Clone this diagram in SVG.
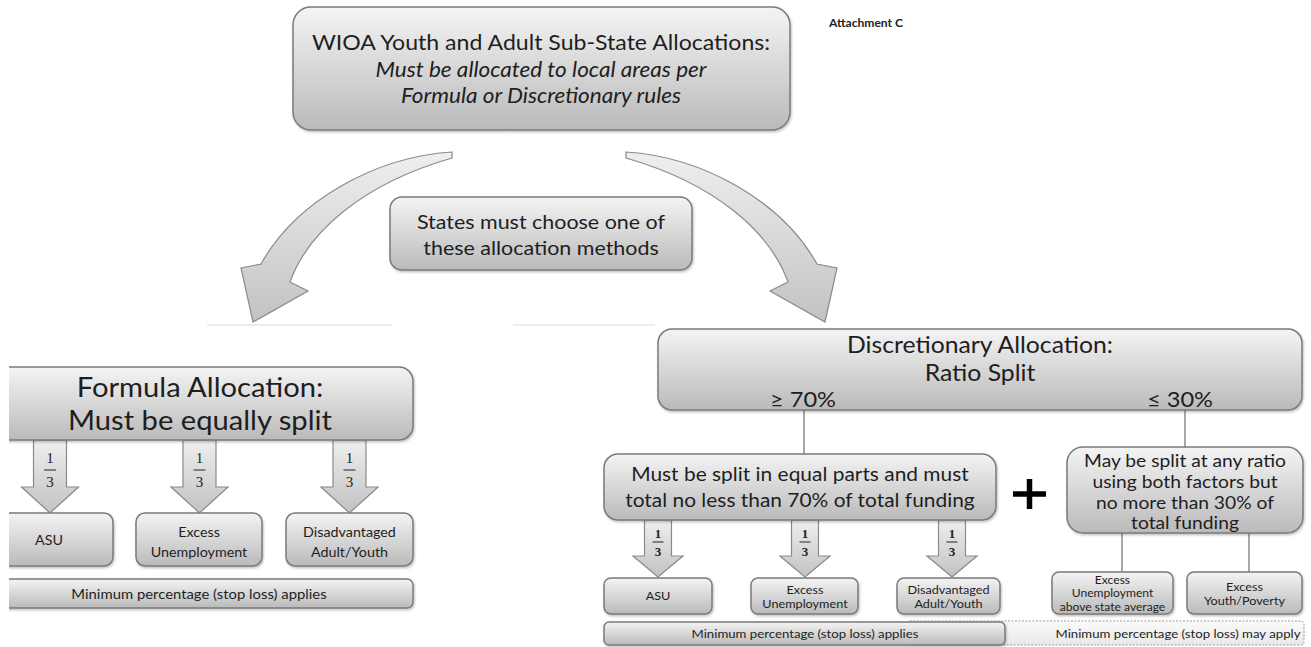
<svg xmlns="http://www.w3.org/2000/svg" width="1311" height="647" viewBox="0 0 1311 647">
<defs>
<linearGradient id="g" x1="0" y1="0" x2="0" y2="1"><stop offset="0" stop-color="#f4f4f4"/><stop offset="1" stop-color="#bababa"/></linearGradient>
<linearGradient id="ga" x1="0" y1="0" x2="0" y2="1"><stop offset="0" stop-color="#efefef"/><stop offset="1" stop-color="#c2c2c2"/></linearGradient>
<linearGradient id="gl" x1="0" y1="0" x2="0" y2="1"><stop offset="0" stop-color="#fbfbfb"/><stop offset="1" stop-color="#e8e8e8"/></linearGradient>
<filter id="sh" x="-5%" y="-10%" width="110%" height="130%"><feDropShadow dx="1" dy="1.5" stdDeviation="1.2" flood-color="#000" flood-opacity="0.25"/></filter>
<clipPath id="cl"><rect x="9" y="0" width="1302" height="647"/></clipPath>
<style>
.b{fill:url(#g);stroke:#7a7a7a;stroke-width:1.5;filter:url(#sh)}
.ar{fill:url(#ga);stroke:#8a8a8a;stroke-width:1.2}
.t{font-family:Lato,"Open Sans","Liberation Sans",sans-serif;fill:#1e1e1e;text-anchor:middle}
.f{font-family:"Liberation Serif",serif;fill:#222;text-anchor:middle}
.ln{stroke:#6e6e6e;stroke-width:1.2;fill:none}
.fl{stroke:#ececec;stroke-width:2}
</style>
</defs>
<rect width="1311" height="647" fill="#fff"/>
<line class="fl" x1="207" y1="325" x2="392" y2="325"/>
<line class="fl" x1="513" y1="325" x2="655" y2="325"/>

<g id="connectors">
<path id="arrow-left" class="ar" d="M452,152 C375,157 296,201 261,264 L241,268 L253,322 L308,291 L290,282 C308,232 362,184 452,158 Z"/>
<path id="arrow-right" class="ar" transform="translate(1078,0) scale(-1,1)" d="M452,152 C375,157 296,201 261,264 L241,268 L253,322 L308,291 L290,282 C308,232 362,184 452,158 Z"/>
<line class="ln" x1="804" y1="410" x2="804" y2="454"/>
<line class="ln" x1="1185" y1="410" x2="1185" y2="447"/>
<line class="ln" x1="1122" y1="533" x2="1122" y2="572"/>
<line class="ln" x1="1249" y1="533" x2="1249" y2="572"/>
<path class="ar" d="M33.5,440 H66.5 V487 H78.5 L50,513 L21.5,487 H33.5 Z"/>
<path class="ar" d="M183,440 H216 V487 H228 L199.5,513 L171,487 H183 Z"/>
<path class="ar" d="M333,440 H366 V487 H378 L349.5,513 L321,487 H333 Z"/>
<path class="ar" d="M644.5,520 H671.5 V556 H683 L658,577 L633,556 H644.5 Z"/>
<path class="ar" d="M791.5,520 H818.5 V556 H830 L805,577 L780,556 H791.5 Z"/>
<path class="ar" d="M938.5,520 H965.5 V556 H977 L952,577 L927,556 H938.5 Z"/>
<g class="f" font-size="15">
<text x="50" y="463">1</text><text x="50" y="487">3</text>
<text x="199.5" y="463">1</text><text x="199.5" y="487">3</text>
<text x="349.5" y="463">1</text><text x="349.5" y="487">3</text>
</g>
<g stroke="#222" stroke-width="1">
<line x1="44" y1="470" x2="56" y2="470"/><line x1="193.5" y1="470" x2="205.5" y2="470"/><line x1="343.5" y1="470" x2="355.5" y2="470"/>
<line x1="652.5" y1="542" x2="663.5" y2="542"/><line x1="799.5" y1="542" x2="810.5" y2="542"/><line x1="946.5" y1="542" x2="957.5" y2="542"/>
</g>
<g class="f" font-size="13" font-weight="bold">
<text x="658" y="538">1</text><text x="658" y="556">3</text>
<text x="805" y="538">1</text><text x="805" y="556">3</text>
<text x="952" y="538">1</text><text x="952" y="556">3</text>
</g>
</g>

<g id="top">
<rect class="b" x="293" y="7" width="497" height="123" rx="18"/>
<g transform="scale(1.1,1)">
<text class="t" x="491.82" y="50" font-size="21">WIOA Youth and Adult Sub-State Allocations:</text>
<text class="t" x="491.82" y="77" font-size="20.5" font-style="italic">Must be allocated to local areas per</text>
<text class="t" x="491.82" y="103" font-size="20.5" font-style="italic">Formula or Discretionary rules</text>
</g>
</g>
<g id="attachment">
<text transform="scale(1.1,1)" x="753.64" y="27" font-family="Lato,Open Sans,sans-serif" font-size="11" font-weight="bold" fill="#222">Attachment C</text>
</g>

<g id="choose">
<rect class="b" x="390" y="197" width="302" height="73" rx="12"/>
<g transform="scale(1.1,1)">
<text class="t" x="491.82" y="229" font-size="19.5">States must choose one of</text>
<text class="t" x="491.82" y="255" font-size="19.5">these allocation methods</text>
</g>
</g>

<g clip-path="url(#cl)">
<g id="formula">
<rect class="b" x="-20" y="367" width="433" height="73" rx="14"/>
<g transform="scale(1.1,1)">
<text class="t" x="181.82" y="397" font-size="26.5">Formula Allocation:</text>
<text class="t" x="181.82" y="430" font-size="26.5">Must be equally split</text>
</g>
</g>
<g id="f-asu">
<rect class="b" x="-10" y="513" width="123" height="53" rx="9"/>
<text class="t" transform="scale(1.1,1)" x="44.55" y="545" font-size="13">ASU</text>
</g>
<g id="f-stoploss">
<rect class="b" x="-10" y="579" width="423" height="29" rx="6"/>
<text class="t" transform="scale(1.1,1)" x="180.91" y="599" font-size="13.5">Minimum percentage (stop loss) applies</text>
</g>
</g>
<g id="f-excess">
<rect class="b" x="136" y="513" width="126" height="53" rx="9"/>
<g transform="scale(1.1,1)">
<text class="t" x="180.91" y="537" font-size="13">Excess</text>
<text class="t" x="180.91" y="557" font-size="13">Unemployment</text>
</g>
</g>
<g id="f-disadv">
<rect class="b" x="286" y="513" width="127" height="53" rx="9"/>
<g transform="scale(1.1,1)">
<text class="t" x="317.73" y="537" font-size="13">Disadvantaged</text>
<text class="t" x="317.73" y="557" font-size="13">Adult/Youth</text>
</g>
</g>

<g id="discretionary">
<rect class="b" x="658" y="329" width="644" height="81" rx="14"/>
<g transform="scale(1.1,1)">
<text class="t" x="890.91" y="353.5" font-size="22.5">Discretionary Allocation:</text>
<text class="t" x="890.91" y="381" font-size="22.5">Ratio Split</text>
<text class="t" x="730" y="407" font-size="21.5">≥ 70%</text>
<text class="t" x="1072.73" y="407" font-size="21.5">≤ 30%</text>
</g>
</g>

<g id="equal-parts">
<rect class="b" x="604" y="454" width="392" height="66" rx="14"/>
<g transform="scale(1.1,1)">
<text class="t" x="727.27" y="481" font-size="19">Must be split in equal parts and must</text>
<text class="t" x="727.27" y="507" font-size="19">total no less than 70% of total funding</text>
</g>
</g>

<g id="plus">
<line x1="1013" y1="494" x2="1046" y2="494" stroke="#000" stroke-width="5.5"/>
<line x1="1029.5" y1="479" x2="1029.5" y2="509" stroke="#000" stroke-width="5.5"/>
</g>

<g id="any-ratio">
<rect class="b" x="1067" y="447" width="236" height="86" rx="16"/>
<g transform="scale(1.1,1)">
<text class="t" x="1077.27" y="467" font-size="17.5">May be split at any ratio</text>
<text class="t" x="1077.27" y="488" font-size="17.5">using both factors but</text>
<text class="t" x="1077.27" y="509" font-size="17.5">no more than 30% of</text>
<text class="t" x="1077.27" y="529.5" font-size="17.5">total funding</text>
</g>
</g>

<g id="d-asu">
<rect class="b" x="604" y="578" width="108" height="36" rx="7"/>
<text class="t" transform="scale(1.1,1)" x="598.18" y="600" font-size="11.5">ASU</text>
</g>
<g id="d-excess">
<rect class="b" x="751" y="578" width="107" height="36" rx="7"/>
<g transform="scale(1.1,1)">
<text class="t" x="731.82" y="594" font-size="11.5">Excess</text>
<text class="t" x="731.82" y="608" font-size="11.5">Unemployment</text>
</g>
</g>
<g id="d-disadv">
<rect class="b" x="897" y="578" width="103" height="36" rx="7"/>
<g transform="scale(1.1,1)">
<text class="t" x="862.27" y="594" font-size="11.5">Disadvantaged</text>
<text class="t" x="862.27" y="608" font-size="11.5">Adult/Youth</text>
</g>
</g>
<g id="d-excess-above">
<rect class="b" x="1052" y="572" width="121" height="42" rx="7"/>
<g transform="scale(1.1,1)">
<text class="t" x="1011.36" y="584" font-size="11">Excess</text>
<text class="t" x="1011.36" y="597.5" font-size="11">Unemployment</text>
<text class="t" x="1011.36" y="611" font-size="11">above state average</text>
</g>
</g>
<g id="d-youth-poverty">
<rect class="b" x="1187" y="572" width="115" height="42" rx="7"/>
<g transform="scale(1.1,1)">
<text class="t" x="1131.36" y="591" font-size="11.5">Excess</text>
<text class="t" x="1131.36" y="605" font-size="11.5">Youth/Poverty</text>
</g>
</g>

<g id="d-stoploss-may">
<rect x="907" y="621" width="397" height="24" rx="3" fill="url(#gl)" stroke="#9a9a9a" stroke-width="1" stroke-dasharray="2 1.5"/>
<text class="t" transform="scale(1.1,1)" x="1070.91" y="638" font-size="12">Minimum percentage (stop loss) may apply</text>
</g>
<g id="d-stoploss">
<rect class="b" x="604" y="622" width="401" height="23" rx="5"/>
<text class="t" transform="scale(1.1,1)" x="731.82" y="638" font-size="12">Minimum percentage (stop loss) applies</text>
</g>
</svg>
